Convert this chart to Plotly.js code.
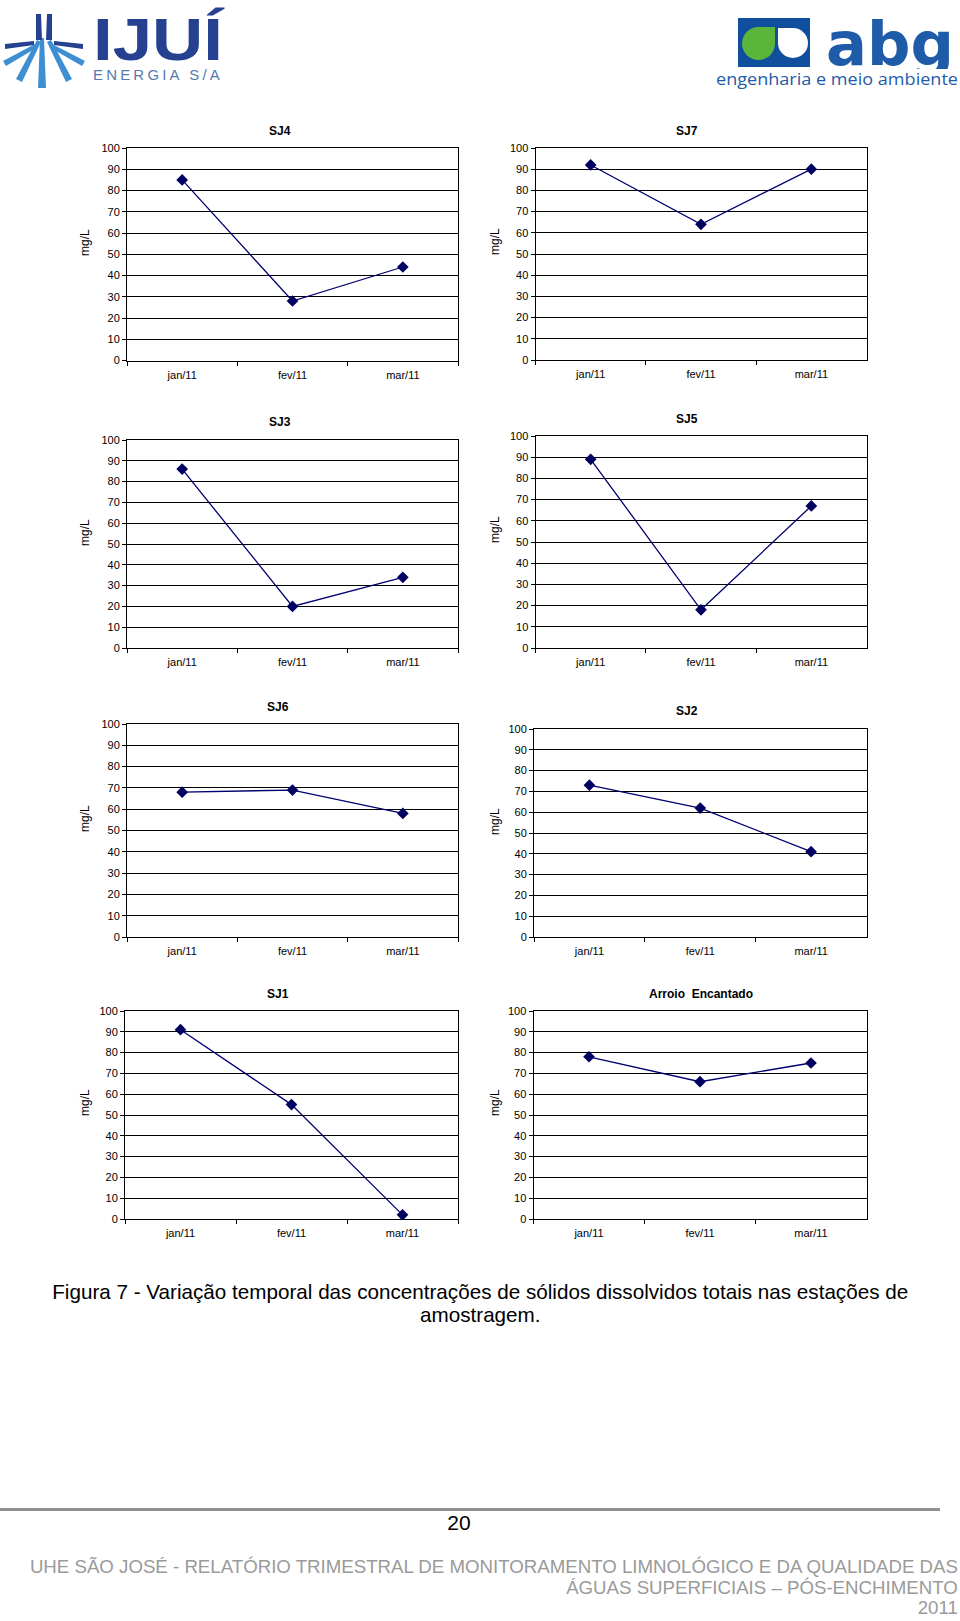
<!DOCTYPE html>
<html>
<head>
<meta charset="utf-8">
<script src="https://cdn.plot.ly/plotly-3.0.1.min.js"></script>
<style>
  html, body { margin:0; padding:0; background:#fff; }
  body { width:960px; height:1621px; position:relative; overflow:hidden; font-family:'Liberation Sans', Arial, sans-serif; }
  #chart { position:absolute; left:0; top:0; width:960px; height:1621px; }
  .abs { position:absolute; white-space:nowrap; }
  .fit { display:inline-block; }
</style>
</head>
<body>
<div id="chart"></div>

<!-- Left logo: IJUÍ ENERGIA S/A -->
<svg class="abs" style="left:0;top:0" width="90" height="95" viewBox="0 0 90 95">
  <g fill="#3d8fd1">
    <polygon points="40,38 44,38 46,88 38,88"/>
    <polygon points="37,40 41,42 22,82 16,79"/>
    <polygon points="47,42 51,40 72,79 66,82"/>
    <polygon points="35,44 38,47 6,66 3,61"/>
    <polygon points="49,47 52,44 85,61 82,66"/>
  </g>
  <g fill="#25418f">
    <polygon points="36,14 41,14 42,40 36,40"/>
    <polygon points="47,14 52,14 52,40 46,40"/>
    <polygon points="5,44 34,41 34,45 5,49"/>
    <polygon points="54,41 83,44 83,49 54,45"/>
  </g>
</svg>
<div class="abs" style="left:93px;top:14.5px;font-family:'Liberation Sans',Arial;font-weight:bold;font-size:60px;color:#25418f;line-height:50px;"><span id="ijui" class="fit">IJUÍ</span></div>
<div class="abs" style="left:93px;top:66px;font-family:'Liberation Sans';font-size:15px;color:#5679ad;line-height:18px;"><span id="energia" class="fit" style="letter-spacing:3.2px;">ENERGIA S/A</span></div>

<!-- Right logo: abg -->
<svg class="abs" style="left:738px;top:18px" width="72" height="49" viewBox="0 0 72 49">
  <rect x="0" y="0" width="72" height="49" fill="#0f4f9e"/>
  <path d="M37,9 L37,25.5 A16.5,16.5 0 1 1 20.5,9 Z" fill="#5bb53b"/>
  <path d="M40,10 L55,10 A15,15 0 1 1 40,25 Z" fill="#ffffff"/>
</svg>
<div class="abs" style="left:826px;top:10px;height:59px;padding-top:4px;box-sizing:border-box;overflow:hidden;font-family:'DejaVu Sans';font-weight:bold;font-size:60px;color:#1e5ba9;line-height:60px;"><span id="abgtxt" class="fit">abg</span></div>
<div class="abs" style="left:716px;top:70px;font-family:'Open Sans','Liberation Sans';font-size:17px;color:#1e5ba9;line-height:18px;"><span id="abgsub" class="fit">engenharia e meio ambiente</span></div>

<!-- Caption -->
<div class="abs" style="left:0;width:960px;top:1280px;text-align:center;font-family:'Liberation Sans',Arial;font-size:21px;color:#000;line-height:23px;">
  <span id="cap1" class="fit">Figura 7 - Variação temporal das concentrações de sólidos dissolvidos totais nas estações de</span><br>
  <span id="cap2" class="fit">amostragem.</span>
</div>

<!-- Footer -->
<div class="abs" style="left:0;top:1508px;width:940px;height:3px;background:#8f8f8f;"></div>
<div class="abs" style="left:0;width:918px;top:1511px;text-align:center;font-family:'Liberation Sans',Arial;font-size:21px;color:#000;line-height:24px;"><span id="pg" class="fit">20</span></div>
<div class="abs" style="right:2px;top:1557px;text-align:right;font-family:'Liberation Sans',Arial;font-size:19px;color:#9a9a9a;line-height:20.5px;">
  <span id="f1" class="fit">UHE SÃO JOSÉ - RELATÓRIO TRIMESTRAL DE MONITORAMENTO LIMNOLÓGICO E DA QUALIDADE DAS</span><br>
  <span id="f2" class="fit">ÁGUAS SUPERFICIAIS – PÓS-ENCHIMENTO</span><br>
  <span id="f3" class="fit">2011</span>
</div>

<script>
// ---------------- DATA ----------------
const months = ['jan/11', 'fev/11', 'mar/11'];
const stationNames = ['SJ4', 'SJ7', 'SJ3', 'SJ5', 'SJ6', 'SJ2', 'SJ1', 'Arroio  Encantado'];
const sj4 = [85, 28, 44];
const sj7 = [92, 64, 90];
const sj3 = [86, 20, 34];
const sj5 = [89, 18, 67];
const sj6 = [68, 69, 58];
const sj2 = [73, 62, 41];
const sj1 = [91, 55, 2];
const arroioEncantado = [78, 66, 75];
const yTickValues = [0, 10, 20, 30, 40, 50, 60, 70, 80, 90, 100];
const yAxisLabel = 'mg/L';

const seriesList = [sj4, sj7, sj3, sj5, sj6, sj2, sj1, arroioEncantado];

// ---------------- LAYOUT (pixel boxes: left, right, top, bottom) ----------------
const W = 960, H = 1621;
const boxes = [
  [127, 458, 148, 360.5],
  [535.5, 866.5, 148, 360],
  [127, 458, 440, 648],
  [535.5, 866.5, 436, 648],
  [127, 458, 724, 937],
  [534, 866.5, 729, 937],
  [125, 458, 1011, 1219],
  [533.5, 866.5, 1011, 1219]
];
const titlePos = [
  [280, 131], [687, 131],
  [280, 422.5], [687, 419],
  [278, 706.5], [687, 711],
  [278, 993.5], [700.5, 993.5]
];
const yTitlePos = [
  [85, 243], [495, 242],
  [85, 533], [495, 530],
  [85, 819], [495, 822],
  [85, 1103], [495, 1103]
];

const font = "'Liberation Sans', Arial, sans-serif";
const traces = [];
const layout = {
  width: W, height: H,
  margin: {l: 0, r: 0, t: 0, b: 0},
  paper_bgcolor: 'rgba(0,0,0,0)',
  plot_bgcolor: '#ffffff',
  showlegend: false,
  font: {family: font, size: 11, color: '#000'},
  annotations: []
};

seriesList.forEach((vals, i) => {
  const n = i === 0 ? '' : String(i + 1);
  const [l, r, t, b] = boxes[i];
  traces.push({
    type: 'scatter', mode: 'lines+markers',
    x: months, y: vals,
    xaxis: 'x' + n, yaxis: 'y' + n,
    line: {color: '#000070', width: 1.3},
    marker: {symbol: 'diamond', size: 9, color: '#000060'},
    hoverinfo: 'x+y'
  });
  layout['xaxis' + n] = {
    domain: [l / W, r / W],
    anchor: 'y' + n,
    type: 'category',
    range: [-0.5, 2.5],
    showgrid: false, zeroline: false,
    showline: true, linecolor: '#000', linewidth: 1, mirror: true,
    ticks: 'outside', tickson: 'boundaries', ticklen: 4, tickcolor: '#000',
    ticklabelstandoff: 4,
    tickfont: {family: font, size: 11, color: '#000'},
    fixedrange: true
  };
  layout['yaxis' + n] = {
    domain: [1 - b / H, 1 - t / H],
    anchor: 'x' + n,
    range: [0, 100],
    tickmode: 'array', tickvals: yTickValues,
    showgrid: true, gridcolor: '#000', gridwidth: 1,
    zeroline: false,
    showline: true, linecolor: '#000', linewidth: 1, mirror: true,
    ticks: 'outside', ticklen: 4, tickcolor: '#000',
    tickfont: {family: font, size: 11, color: '#000'},
    fixedrange: true
  };
  layout.annotations.push({
    xref: 'paper', yref: 'paper',
    x: titlePos[i][0] / W, y: 1 - titlePos[i][1] / H,
    xanchor: 'center', yanchor: 'middle',
    text: '<b>' + stationNames[i] + '</b>',
    showarrow: false,
    font: {family: font, size: 12, color: '#000'}
  });
  layout.annotations.push({
    xref: 'paper', yref: 'paper',
    x: yTitlePos[i][0] / W, y: 1 - yTitlePos[i][1] / H,
    xanchor: 'center', yanchor: 'middle',
    text: yAxisLabel, textangle: -90,
    showarrow: false,
    font: {family: font, size: 12, color: '#000'}
  });
});

Plotly.newPlot('chart', traces, layout, {staticPlot: true, displayModeBar: false});

// fit condensed-looking texts to their widths in the reference
function fitWidth(id, target, origin) {
  const el = document.getElementById(id);
  const w = el.getBoundingClientRect().width;
  const s = target / w;
  el.style.transformOrigin = origin;
  el.style.transform = 'scaleX(' + s + ')';
  return s;
}
const sCap = fitWidth('cap1', 856, 'center');
document.getElementById('cap2').style.transformOrigin = 'center';
document.getElementById('cap2').style.transform = 'scaleX(' + sCap + ')';
const sF = fitWidth('f1', 928, 'right');
['f2', 'f3'].forEach(id => {
  const e = document.getElementById(id);
  e.style.transformOrigin = 'right';
  e.style.transform = 'scaleX(' + sF + ')';
});
fitWidth('abgsub', 242, 'left');
fitWidth('ijui', 130, 'left');
fitWidth('energia', 130, 'left');
fitWidth('abgtxt', 128, 'left');
</script>
</body>
</html>
